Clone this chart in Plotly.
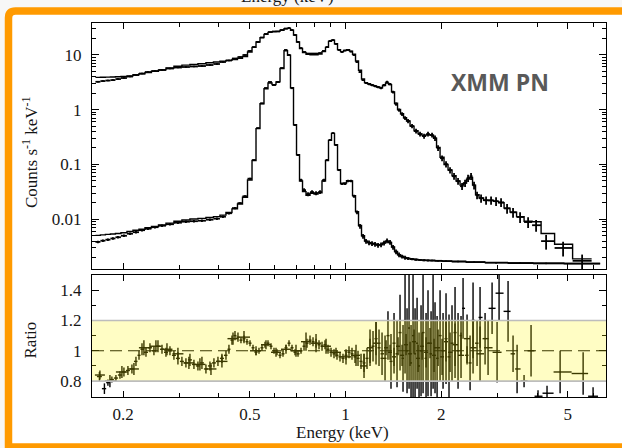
import numpy as np
import plotly.graph_objects as go

# ---------------- spectra (counts s^-1 keV^-1) ----------------
E_bright = [0.1666, 0.1727, 0.1791, 0.1857, 0.1926, 0.2011, 0.2101, 0.2194, 0.2292, 0.2393,
            0.2517, 0.2649, 0.2806, 0.2973, 0.3150, 0.3338, 0.3537, 0.3748, 0.3943, 0.4118,
            0.4301, 0.4493, 0.4658, 0.4831, 0.5009, 0.5157, 0.5307, 0.5463, 0.5623, 0.5789,
            0.5959, 0.6134, 0.6315, 0.6500, 0.6643, 0.6789, 0.6938, 0.7091, 0.7246, 0.7406,
            0.7623, 0.7847, 0.8078, 0.8314, 0.8558, 0.8746, 0.8938, 0.9134, 0.9335, 0.9541,
            0.9750, 0.9964, 1.0183, 1.0406, 1.0635, 1.0868, 1.1107, 1.1351, 1.1600, 1.1855,
            1.2115, 1.2381, 1.2654, 1.2932, 1.3215, 1.3506, 1.3802, 1.4106, 1.4415, 1.4732,
            1.5056, 1.5386, 1.5724, 1.6186, 1.6662, 1.7151, 1.7656, 1.8170, 1.8707, 1.9117,
            1.9540, 2.0114, 2.0701, 2.1310, 2.1937, 2.2583, 2.3248, 2.3758, 2.4279, 2.4813,
            2.5357, 2.5912, 2.6677, 2.7660, 2.8680, 2.9738, 3.0832, 3.2201, 3.3627, 3.5383,
            3.7497, 3.9728, 4.2718, 4.8306, 5.5441]
cnt_bright = [3.21, 3.31, 3.38, 3.45, 3.60, 3.76, 4.00, 4.26, 4.54, 4.83,
              5.04, 5.26, 5.60, 5.84, 5.97, 6.10, 6.22, 6.49, 6.77, 7.36,
              7.84, 8.53, 9.08, 9.88, 11.7, 13.8, 17.1, 20.6, 23.9, 25.9,
              26.5, 26.5, 28.2, 30.0, 30.7, 28.2, 22.9, 17.1, 13.2, 11.2,
              10.5, 10.5, 10.5, 10.7, 11.7, 13.8, 17.8, 18.5, 15.7, 12.2,
              11.2, 11.9, 12.2, 11.4, 9.88, 7.36, 4.83, 3.45, 3.04, 2.92,
              2.80, 2.68, 2.57, 2.47, 2.80, 3.18, 2.92, 2.08, 1.26, 0.98,
              0.83, 0.70, 0.617, 0.50, 0.405, 0.357, 0.328, 0.357, 0.343, 0.302,
              0.199, 0.130, 0.101, 0.0787, 0.061, 0.0495, 0.0401, 0.0457, 0.0563, 0.061,
              0.0417, 0.0275, 0.0242, 0.0222, 0.0222, 0.0214, 0.0204, 0.0158, 0.0134, 0.0110,
              0.0089, 0.0078, 0.0040, 0.0030, 0.00175]
mdl_bright = [3.87, 3.89, 3.91, 3.93, 3.96, 4.00, 4.12, 4.30, 4.50, 4.75,
              5.00, 5.30, 5.75, 6.15, 6.45, 6.65, 6.85, 7.15, 7.35, 7.65,
              7.90, 8.20, 8.60, 9.30, 11.2, 13.6, 17.0, 20.5, 23.5, 25.5,
              26.3, 26.6, 28.0, 29.8, 30.2, 28.0, 22.8, 17.0, 13.0, 11.0,
              10.2, 10.0, 10.0, 10.3, 11.4, 13.6, 17.5, 18.3, 15.8, 12.4,
              11.4, 12.0, 12.3, 11.6, 10.2, 7.7, 5.2, 3.6, 3.10, 2.95,
              2.82, 2.70, 2.58, 2.50, 2.75, 3.05, 2.85, 2.10, 1.30, 1.00,
              0.84, 0.71, 0.62, 0.50, 0.41, 0.36, 0.335, 0.35, 0.34, 0.30,
              0.205, 0.135, 0.100, 0.079, 0.062, 0.050, 0.042, 0.046, 0.054, 0.058,
              0.042, 0.028, 0.0245, 0.0222, 0.0220, 0.0212, 0.0200, 0.0160, 0.0135, 0.0112,
              0.0092, 0.0090, 0.0055, 0.0035, 0.0019]
relerr_bright = [0.03, 0.03, 0.03, 0.03, 0.03, 0.03, 0.03, 0.03, 0.03, 0.03,
                 0.03, 0.03, 0.03, 0.03, 0.03, 0.03, 0.03, 0.03, 0.03, 0.03,
                 0.03, 0.025, 0.025, 0.025, 0.02, 0.02, 0.02, 0.02, 0.02, 0.02,
                 0.02, 0.02, 0.02, 0.02, 0.02, 0.02, 0.02, 0.02, 0.02, 0.02,
                 0.025, 0.025, 0.025, 0.025, 0.02, 0.02, 0.02, 0.02, 0.02, 0.02,
                 0.025, 0.025, 0.025, 0.025, 0.03, 0.03, 0.04, 0.04, 0.04, 0.05,
                 0.05, 0.05, 0.05, 0.05, 0.05, 0.05, 0.05, 0.06, 0.07, 0.07,
                 0.08, 0.08, 0.09, 0.09, 0.10, 0.10, 0.10, 0.10, 0.10, 0.11,
                 0.12, 0.12, 0.13, 0.13, 0.14, 0.14, 0.15, 0.15, 0.15, 0.15,
                 0.16, 0.16, 0.17, 0.17, 0.17, 0.18, 0.18, 0.20, 0.20, 0.22,
                 0.22, 0.24, 0.30, 0.30, 0.30]

E_faint = [0.1666, 0.1727, 0.1791, 0.1857, 0.1926, 0.2011, 0.2101, 0.2194, 0.2292, 0.2393,
           0.2517, 0.2649, 0.2806, 0.2973, 0.3150, 0.3338, 0.3537, 0.3748, 0.3943, 0.4118,
           0.4301, 0.4493, 0.4658, 0.4831, 0.5009, 0.5157, 0.5307, 0.5463, 0.5623, 0.5789,
           0.5959, 0.6134, 0.6315, 0.6500, 0.6643, 0.6789, 0.6938, 0.7091, 0.7246, 0.7406,
           0.7623, 0.7847, 0.8078, 0.8314, 0.8558, 0.8746, 0.8938, 0.9134, 0.9335, 0.9541,
           0.9750, 0.9964, 1.0183, 1.0406, 1.0635, 1.0868, 1.1107, 1.1351, 1.1600, 1.1855,
           1.2115, 1.2381, 1.2654, 1.2932, 1.3215, 1.3506, 1.3802, 1.4106, 1.4415, 1.4732,
           1.5056, 1.5386, 1.5724, 1.6186, 1.6662, 1.7151, 1.7656, 1.8170, 1.8707, 1.9540,
           2.0701, 2.2583, 2.5357, 2.9738, 3.5383, 4.2718, 5.5441]
cnt_faint = [0.00387, 0.00407, 0.00425, 0.00447, 0.00471, 0.00501, 0.00546, 0.00582, 0.00633, 0.00673,
             0.00718, 0.00764, 0.00813, 0.00867, 0.00904, 0.00923, 0.00942, 0.00984, 0.01026, 0.01115,
             0.0129, 0.0160, 0.0197, 0.0263, 0.055, 0.12, 0.459, 1.3, 2.47, 3.18,
             2.80, 3.18, 5.71, 12.2, 9.9, 2.45, 0.521, 0.148, 0.0518, 0.034,
             0.0287, 0.0313, 0.0299, 0.0313, 0.0516, 0.12, 0.279, 0.372, 0.225, 0.0787,
             0.0443, 0.0443, 0.050, 0.050, 0.0263, 0.0134, 0.0075, 0.0049, 0.00398, 0.00375,
             0.00362, 0.00351, 0.00337, 0.00345, 0.00370, 0.00405, 0.00380, 0.00310, 0.00255, 0.00225,
             0.00210, 0.00200, 0.00193, 0.00188, 0.00184, 0.00181, 0.00179, 0.00178, 0.00177, 0.00175,
             0.00173, 0.00170, 0.00166, 0.00162, 0.00159, 0.00157, 0.00155]
mdl_faint = [0.0051, 0.0052, 0.0053, 0.0054, 0.0055, 0.0057, 0.0060, 0.0063, 0.0066, 0.0070,
             0.0074, 0.0079, 0.0085, 0.0092, 0.0097, 0.0101, 0.0104, 0.0108, 0.0112, 0.0119,
             0.0133, 0.0155, 0.0190, 0.0252, 0.052, 0.118, 0.45, 1.28, 2.40, 3.05,
             2.85, 3.20, 5.60, 11.8, 9.8, 2.50, 0.53, 0.150, 0.050, 0.032,
             0.0275, 0.0298, 0.0290, 0.0305, 0.050, 0.118, 0.275, 0.368, 0.228, 0.080,
             0.0450, 0.0460, 0.0505, 0.0500, 0.0270, 0.0138, 0.0077, 0.0050, 0.00400, 0.00376,
             0.00363, 0.00352, 0.00340, 0.00346, 0.00368, 0.00398, 0.00378, 0.00312, 0.00258, 0.00226,
             0.00210, 0.00200, 0.00194, 0.00189, 0.00185, 0.00182, 0.00180, 0.00178, 0.00177, 0.00175,
             0.00173, 0.00170, 0.00166, 0.00162, 0.00160, 0.00158, 0.00156]
relerr_faint = [0.05, 0.05, 0.05, 0.05, 0.05, 0.05, 0.05, 0.05, 0.05, 0.05,
                0.05, 0.05, 0.05, 0.05, 0.05, 0.05, 0.05, 0.05, 0.05, 0.05,
                0.05, 0.05, 0.04, 0.04, 0.04, 0.03, 0.03, 0.02, 0.02, 0.02,
                0.02, 0.02, 0.02, 0.02, 0.02, 0.02, 0.03, 0.04, 0.06, 0.08,
                0.08, 0.08, 0.08, 0.08, 0.06, 0.04, 0.03, 0.03, 0.03, 0.04,
                0.05, 0.05, 0.05, 0.05, 0.06, 0.08, 0.10, 0.10, 0.10, 0.10,
                0.10, 0.10, 0.10, 0.10, 0.10, 0.10, 0.10, 0.10, 0.10, 0.10,
                0.08, 0.08, 0.06, 0.05, 0.05, 0.04, 0.04, 0.04, 0.03, 0.03,
                0.03, 0.03, 0.03, 0.03, 0.03, 0.03, 0.03]

# ---------------- data / model ratios ----------------
ratio_E_bright = [0.1684, 0.1746, 0.1791, 0.1843, 0.1898, 0.1954, 0.2011, 0.2070, 0.2131, 0.2194,
                  0.2243, 0.2292, 0.2359, 0.2428, 0.2499, 0.2573, 0.2649, 0.2726, 0.2806, 0.2888,
                  0.2973, 0.3060, 0.3150, 0.3243, 0.3338, 0.3436, 0.3537, 0.3641, 0.3748, 0.3858,
                  0.3972, 0.4088, 0.4209, 0.4301, 0.4396, 0.4493, 0.4591, 0.4692, 0.4796, 0.4901,
                  0.5009, 0.5119, 0.5232, 0.5346, 0.5463, 0.5583, 0.5706, 0.5831, 0.5959, 0.6090,
                  0.6223, 0.6360, 0.6500, 0.6643, 0.6789, 0.6938, 0.7091, 0.7246, 0.7406, 0.7568,
                  0.7734, 0.7904, 0.8078, 0.8255, 0.8436, 0.8621, 0.8810, 0.9004, 0.9201, 0.9403,
                  0.9609, 0.9820, 1.0036, 1.0256, 1.0481, 1.0712, 1.0947, 1.1188, 1.1434, 1.1685,
                  1.1941, 1.2203, 1.2472, 1.2745, 1.3026, 1.3410, 1.3802, 1.4208, 1.4626, 1.5056,
                  1.5499, 1.5954, 1.6423, 1.6906, 1.7403, 1.7913, 1.8439, 1.8981, 1.9540, 2.0114,
                  2.0701, 2.1310, 2.2096, 2.3075, 2.4103, 2.5173, 2.6482, 2.8065, 2.9953]
ratio_bright = [0.83, 0.75, 0.79, 0.81, 0.82, 0.84, 0.86, 0.87, 0.88, 0.93,
                0.97, 1.01, 0.99, 1.02, 1.00, 1.03, 1.01, 0.99, 1.00, 0.97,
                0.95, 0.93, 0.92, 0.94, 0.91, 0.90, 0.92, 0.88, 0.90, 0.92,
                0.93, 0.95, 0.97, 1.01, 1.07, 1.10, 1.09, 1.07, 1.08, 1.06,
                1.05, 1.02, 0.99, 1.00, 1.02, 1.04, 1.05, 1.03, 1.00, 0.99,
                0.97, 0.98, 1.02, 1.05, 1.02, 0.99, 0.98, 1.00, 1.03, 1.05,
                1.07, 1.06, 1.05, 1.04, 1.03, 1.04, 1.01, 0.99, 0.98, 0.97,
                0.96, 0.95, 0.97, 0.99, 0.98, 0.96, 0.95, 0.93, 0.92, 0.95,
                1.00, 1.03, 1.08, 1.02, 0.98, 1.02, 0.99, 0.96, 1.03, 0.97,
                1.04, 0.98, 1.06, 0.95, 1.03, 0.99, 1.05, 0.97, 1.02, 0.96,
                1.06, 0.99, 1.04, 0.97, 1.08, 1.02, 0.98, 1.02, 0.99]
ratio_err_bright = [0.03, 0.035, 0.02, 0.02, 0.02, 0.025, 0.03, 0.03, 0.03, 0.03,
                    0.03, 0.04, 0.03, 0.03, 0.03, 0.04, 0.03, 0.03, 0.03, 0.03,
                    0.04, 0.03, 0.03, 0.04, 0.03, 0.03, 0.04, 0.03, 0.03, 0.03,
                    0.03, 0.03, 0.03, 0.03, 0.03, 0.03, 0.03, 0.02, 0.02, 0.02,
                    0.02, 0.02, 0.02, 0.02, 0.02, 0.02, 0.02, 0.02, 0.02, 0.02,
                    0.02, 0.02, 0.02, 0.02, 0.02, 0.02, 0.02, 0.02, 0.03, 0.03,
                    0.03, 0.03, 0.03, 0.03, 0.03, 0.03, 0.03, 0.03, 0.03, 0.03,
                    0.03, 0.03, 0.03, 0.04, 0.04, 0.04, 0.05, 0.05, 0.06, 0.07,
                    0.08, 0.10, 0.11, 0.12, 0.14, 0.05, 0.05, 0.06, 0.06, 0.07,
                    0.07, 0.08, 0.08, 0.09, 0.09, 0.10, 0.10, 0.11, 0.12, 0.12,
                    0.13, 0.13, 0.14, 0.15, 0.16, 0.17, 0.18, 0.18, 0.20]

ratio_E_faint = [0.1690, 0.1817, 0.1982, 0.2162, 0.2324, 0.2535, 0.2746, 0.2973, 0.3219, 0.3486,
                 0.3776, 0.4088, 0.4429, 0.4796, 0.5232, 0.5623, 0.6046, 0.6500, 0.6988, 0.7513,
                 0.8078, 0.8685, 0.9335, 1.0036, 1.0790, 1.1434, 1.1941, 1.2472, 1.3312, 1.3599,
                 1.3899, 1.4208, 1.4519, 1.4838, 1.5164, 1.5386, 1.5610, 1.5838, 1.6069, 1.6304,
                 1.6543, 1.6786, 1.7027, 1.7276, 1.7529, 1.7913, 1.8170, 1.8575, 1.8847, 1.9117,
                 1.9403, 1.9825, 2.0259, 2.0701, 2.1153, 2.1617, 2.2096, 2.2583, 2.3075, 2.3417,
                 2.4103, 2.4636, 2.5173, 2.5912, 2.6482, 2.7462, 2.8891, 3.0389, 3.2434, 3.3627,
                 3.4623, 3.6416, 3.8305, 4.0289, 4.3004, 4.7275, 5.5847, 6.0012]
ratio_faint = [0.84, 0.80, 0.86, 0.88, 1.02, 1.03, 1.01, 0.98, 0.92, 0.91,
               0.88, 0.93, 1.08, 1.09, 1.00, 1.04, 0.99, 1.01, 1.00, 1.06,
               1.05, 1.03, 0.99, 0.96, 0.97, 0.90, 1.02, 1.05, 0.95, 1.10,
               0.93, 1.05, 0.98, 1.12, 0.95, 1.20, 1.00, 1.15, 0.92, 1.10,
               0.98, 1.05, 0.90, 1.00, 1.12, 0.95, 1.05, 0.98, 1.20, 1.02,
               0.95, 1.10, 1.00, 1.08, 0.96, 1.05, 1.12, 1.00, 1.10, 1.28,
               0.97, 0.92, 1.20, 1.05, 1.22, 1.08, 1.28, 1.38, 1.26, 0.98,
               0.88, 0.80, 1.00, 0.70, 0.72, 0.86, 0.85, 0.70]
ratio_err_faint = [0.03, 0.04, 0.04, 0.04, 0.05, 0.04, 0.04, 0.04, 0.04, 0.04,
                   0.04, 0.04, 0.04, 0.04, 0.03, 0.03, 0.03, 0.03, 0.04, 0.06,
                   0.06, 0.05, 0.03, 0.05, 0.07, 0.08, 0.12, 0.14, 0.15, 0.16,
                   0.18, 0.20, 0.22, 0.25, 0.22, 0.35, 0.28, 0.40, 0.25, 0.45,
                   0.30, 0.30, 0.22, 0.30, 0.40, 0.30, 0.35, 0.28, 0.45, 0.30,
                   0.28, 0.30, 0.25, 0.30, 0.28, 0.25, 0.30, 0.25, 0.13, 0.20,
                   0.06, 0.18, 0.25, 0.15, 0.20, 0.17, 0.17, 0.18, 0.20, 0.12,
                   0.16, 0.04, 0.17, 0.04, 0.05, 0.14, 0.14, 0.06]

x_ticks = [0.2, 0.5, 1, 2, 5]
x_ticktext = ["0.2", "0.5", "1", "2", "5"]
x_minor = [0.3, 0.4, 0.6, 0.7, 0.8, 0.9, 3, 4, 6]
y_ticks = [0.01, 0.1, 1, 10]
y_ticktext = ["0.01", "0.1", "1", "10"]
y_minor = [m * d for d in (0.001, 0.01, 0.1, 1) for m in range(2, 10)] + [20, 30]
r_ticks = [0.8, 1.0, 1.2, 1.4]
r_ticktext = ["0.8", "1", "1.2", "1.4"]
r_minor = [0.9, 1.1, 1.3]

# ---------------- geometry helpers ----------------
W, H = 622, 448
ML, MR, MT, MB = 92, 16, 23, 51
PW, PH = W - ML - MR, H - MT - MB


def px(xp):
    return (xp - ML) / PW


def py(yp):
    return (H - MB - yp) / PH


def bin_edges(e):
    e = np.asarray(e, float)
    mids = np.sqrt(e[1:] * e[:-1])
    lo = np.concatenate([[e[0] ** 2 / mids[0]], mids])
    hi = np.concatenate([mids, [e[-1] ** 2 / mids[-1]]])
    return lo, hi


def crosses(e, v, err, xa, ya, thick=1.4):
    lo, hi = bin_edges(e)
    e = np.asarray(e, float)
    return go.Scatter(
        x=e, y=v, xaxis=xa, yaxis=ya, mode="markers",
        marker=dict(size=1, color="black"),
        error_x=dict(type="data", symmetric=False, array=hi - e, arrayminus=e - lo,
                     width=0, thickness=thick, color="black"),
        error_y=dict(type="data", array=err, width=0, thickness=thick, color="black"),
        showlegend=False, hoverinfo="skip")


def steps(e, v, xa, ya):
    lo, hi = bin_edges(e)
    xs = np.concatenate([lo, [hi[-1]]])
    ys = list(v) + [v[-1]]
    return go.Scatter(x=xs, y=ys, xaxis=xa, yaxis=ya, mode="lines",
                      line=dict(color="black", width=1.4, shape="hv"),
                      showlegend=False, hoverinfo="skip")


fig = go.Figure()

# upper panel: models then data crosses
fig.add_trace(steps(E_bright, mdl_bright, "x", "y"))
fig.add_trace(steps(E_faint, mdl_faint, "x", "y"))
fig.add_trace(crosses(E_bright, cnt_bright,
                      np.array(cnt_bright) * np.array(relerr_bright), "x", "y", 1.8))
fig.add_trace(crosses(E_faint, cnt_faint,
                      np.array(cnt_faint) * np.array(relerr_faint), "x", "y", 1.8))

# lower panel: ratios
fig.add_trace(crosses(ratio_E_bright, ratio_bright, ratio_err_bright, "x2", "y2"))
fig.add_trace(crosses(ratio_E_faint, ratio_faint, ratio_err_faint, "x2", "y2"))

serif = "Liberation Serif, Times New Roman, serif"
txt = "#161616"
xr = [np.log10(0.1596), np.log10(6.59)]

axis_common = dict(showline=True, linecolor="black", linewidth=1.4, mirror="ticks",
                   ticks="inside", tickcolor="black", tickwidth=1.1,
                   showgrid=False, zeroline=False,
                   tickfont=dict(family=serif, size=17, color=txt))

fig.update_layout(
    width=W, height=H, autosize=False,
    margin=dict(l=ML, r=MR, t=MT, b=MB, pad=0),
    paper_bgcolor="#f7f7f7", plot_bgcolor="rgba(0,0,0,0)",
    xaxis=dict(type="log", range=xr, domain=[0, 1], anchor="y",
               tickmode="array", tickvals=x_ticks, ticktext=x_ticktext,
               showticklabels=False, ticklen=6,
               minor=dict(tickmode="array", tickvals=x_minor, ticks="inside",
                          ticklen=4, tickcolor="black", tickwidth=1.1),
               **axis_common),
    yaxis=dict(type="log", range=[-2.906, 1.578], domain=[py(269), 1], anchor="x",
               tickmode="array", tickvals=y_ticks, ticktext=y_ticktext, ticklen=7,
               ticklabelstandoff=6,
               minor=dict(tickmode="array", tickvals=y_minor, ticks="inside",
                          ticklen=4, tickcolor="black", tickwidth=1.1),
               **axis_common),
    xaxis2=dict(type="log", range=xr, domain=[0, 1], anchor="y2",
                tickmode="array", tickvals=x_ticks, ticktext=x_ticktext, ticklen=6,
                ticklabelstandoff=1,
                minor=dict(tickmode="array", tickvals=x_minor, ticks="inside",
                           ticklen=4, tickcolor="black", tickwidth=1.1),
                **axis_common),
    yaxis2=dict(range=[0.695, 1.5], domain=[0, py(275)], anchor="x2",
                tickmode="array", tickvals=r_ticks, ticktext=r_ticktext, ticklen=7,
                ticklabelstandoff=6,
                minor=dict(tickmode="array", tickvals=r_minor, ticks="inside",
                           ticklen=4, tickcolor="black", tickwidth=1.1),
                **axis_common),
)

# rounded orange frame
r = 7
x0, y0, x1, y1 = px(8.5), py(11), px(640), py(447)
rx, ry = r / PW, r / PH
frame = (f"M {x0},{y1} L {x0},{y0 - ry} Q {x0},{y0} {x0 + rx},{y0} "
         f"L {x1},{y0} L {x1},{y1} Z")
shapes = [
    dict(type="path", xref="paper", yref="paper", path=frame, layer="below",
         fillcolor="white", line=dict(color="#FF9A00", width=7.5)),
    # unity line
    dict(type="line", xref="x2 domain", yref="y2", x0=0, x1=1, y0=1, y1=1,
         layer="above", line=dict(color="black", width=1.1, dash="12px,6px")),
    # ±20 % band
    dict(type="rect", xref="x2 domain", yref="y2", x0=0, x1=1, y0=0.8, y1=1.2,
         layer="above", fillcolor="rgb(255,247,0)", opacity=0.23, line=dict(width=0)),
    dict(type="line", xref="x2 domain", yref="y2", x0=0, x1=1, y0=1.2, y1=1.2,
         layer="above", line=dict(color="#bdbdbd", width=1.6)),
    dict(type="line", xref="x2 domain", yref="y2", x0=0, x1=1, y0=0.8, y1=0.8,
         layer="above", line=dict(color="#bdbdbd", width=1.6)),
]
fig.update_layout(shapes=shapes)

annotations = [
    dict(text="Counts s<sup>-1</sup> keV<sup>-1</sup>", x=px(30), y=py(153),
         textangle=-90, font=dict(family=serif, size=17, color=txt)),
    dict(text="Ratio", x=px(29.5), y=py(340), textangle=-90,
         font=dict(family=serif, size=17, color=txt)),
    dict(text="Energy (keV)", x=px(342), y=py(432),
         font=dict(family=serif, size=17, color=txt)),
    dict(text="Energy (keV)", x=px(287), y=py(-3),
         font=dict(family=serif, size=17, color=txt)),
    dict(text="<b>XMM PN</b>", x=px(499.5), y=py(82),
         font=dict(family="Open Sans, sans-serif", size=23, color="#595959")),
]
for a in annotations:
    a.update(xref="paper", yref="paper", showarrow=False,
             xanchor="center", yanchor="middle")
fig.update_layout(annotations=annotations)

fig.write_html("out.html")
